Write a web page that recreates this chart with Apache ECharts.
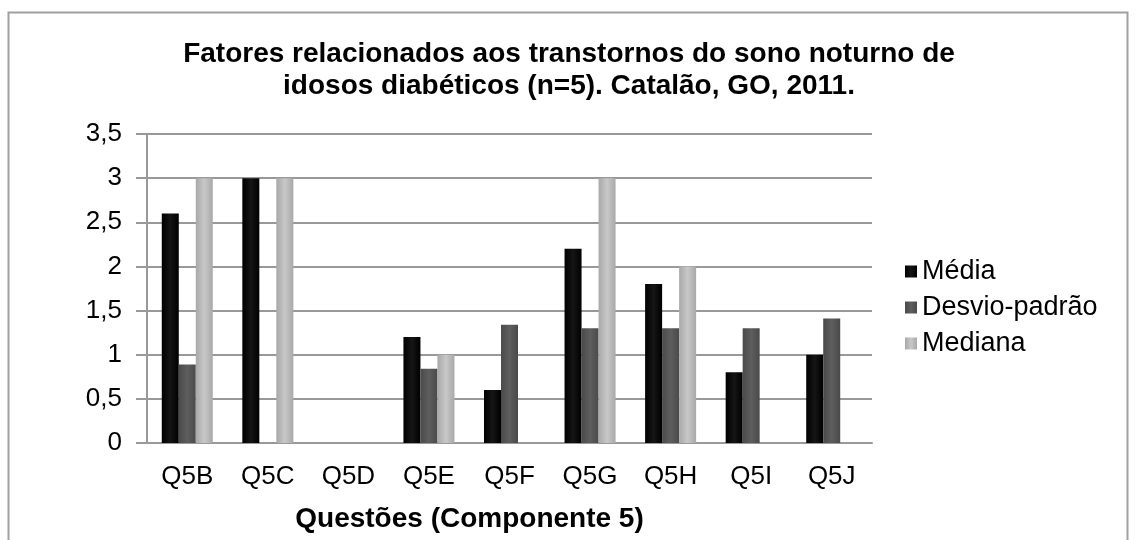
<!DOCTYPE html>
<html><head><meta charset="utf-8">
<script src="https://cdn.jsdelivr.net/npm/echarts@6/dist/echarts.min.js"></script>
<style>html,body{margin:0;padding:0;background:#fff}#c{width:1136px;height:540px}</style>
</head><body><div id="c"></div>
<script>
const categories = ['Q5B','Q5C','Q5D','Q5E','Q5F','Q5G','Q5H','Q5I','Q5J'];
const media = [2.6, 3.0, 0, 1.2, 0.6, 2.2, 1.8, 0.8, 1.0];
const desvio = [0.89, 0, 0, 0.84, 1.34, 1.3, 1.3, 1.3, 1.41];
const mediana = [3, 3, 0, 1, 0, 3, 2, 0, 0];
const yTicks = [0, 0.5, 1, 1.5, 2, 2.5, 3, 3.5];

const font = 'Liberation Sans, Arial, sans-serif';
function grad(a, b) {
  return new echarts.graphic.LinearGradient(0, 0, 1, 0, [
    {offset: 0, color: a}, {offset: 0.5, color: b}, {offset: 1, color: a}
  ]);
}
const chart = echarts.init(document.getElementById('c'));
chart.setOption({
  animation: false,
  graphic: [{type: 'rect', shape: {x: 8.5, y: 12.5, width: 1119, height: 600},
    style: {fill: 'none', stroke: '#a0a0a0', lineWidth: 2}, silent: true}],
  title: {
    text: 'Fatores relacionados aos transtornos do sono noturno de\nidosos diabéticos (n=5). Catalão, GO, 2011.',
    left: 564, top: 33, textAlign: 'center',
    textStyle: {fontFamily: font, fontWeight: 'bold', fontSize: 28, lineHeight: 32, color: '#000'}
  },
  legend: {
    orient: 'vertical', left: 900, top: 253, itemWidth: 12, itemHeight: 12, itemGap: 9,
    icon: 'rect',
    textStyle: {fontFamily: font, fontSize: 27, color: '#000', padding: [0, 0, 0, 0]},
    data: ['Média', 'Desvio-padrão', 'Mediana']
  },
  grid: {left: 147, right: 264, top: 134, bottom: 97},
  xAxis: {
    type: 'category', data: categories,
    name: 'Questões (Componente 5)', nameLocation: 'middle', nameGap: 62,
    nameTextStyle: {fontFamily: font, fontWeight: 'bold', fontSize: 28, color: '#000', padding: [0, 80, 0, 0]},
    axisLine: {lineStyle: {color: '#999', width: 2}},
    axisTick: {show: false},
    axisLabel: {fontFamily: font, fontSize: 26, color: '#000', margin: 21}
  },
  yAxis: {
    type: 'value', min: 0, max: 3.5, interval: 0.5,
    axisLine: {show: true, lineStyle: {color: '#999', width: 2}},
    axisTick: {show: true, length: 11, inside: false, lineStyle: {color: '#999', width: 2}},
    splitLine: {lineStyle: {color: '#999', width: 2}},
    axisLabel: {fontFamily: font, fontSize: 26, color: '#000', margin: 25,
      formatter: v => String(v).replace('.', ',')}
  },
  series: [
    {name: 'Média', type: 'bar', data: media, barWidth: 17, barGap: '0%',
      itemStyle: {color: grad('#000', '#151515')}},
    {name: 'Desvio-padrão', type: 'bar', data: desvio, barWidth: 17, barGap: '0%',
      itemStyle: {color: grad('#4a4a4a', '#5e5e5e')}},
    {name: 'Mediana', type: 'bar', data: mediana, barWidth: 17, barGap: '0%',
      itemStyle: {color: grad('#a8a8a8', '#c8c8c8')}}
  ]
});
</script></body></html>
